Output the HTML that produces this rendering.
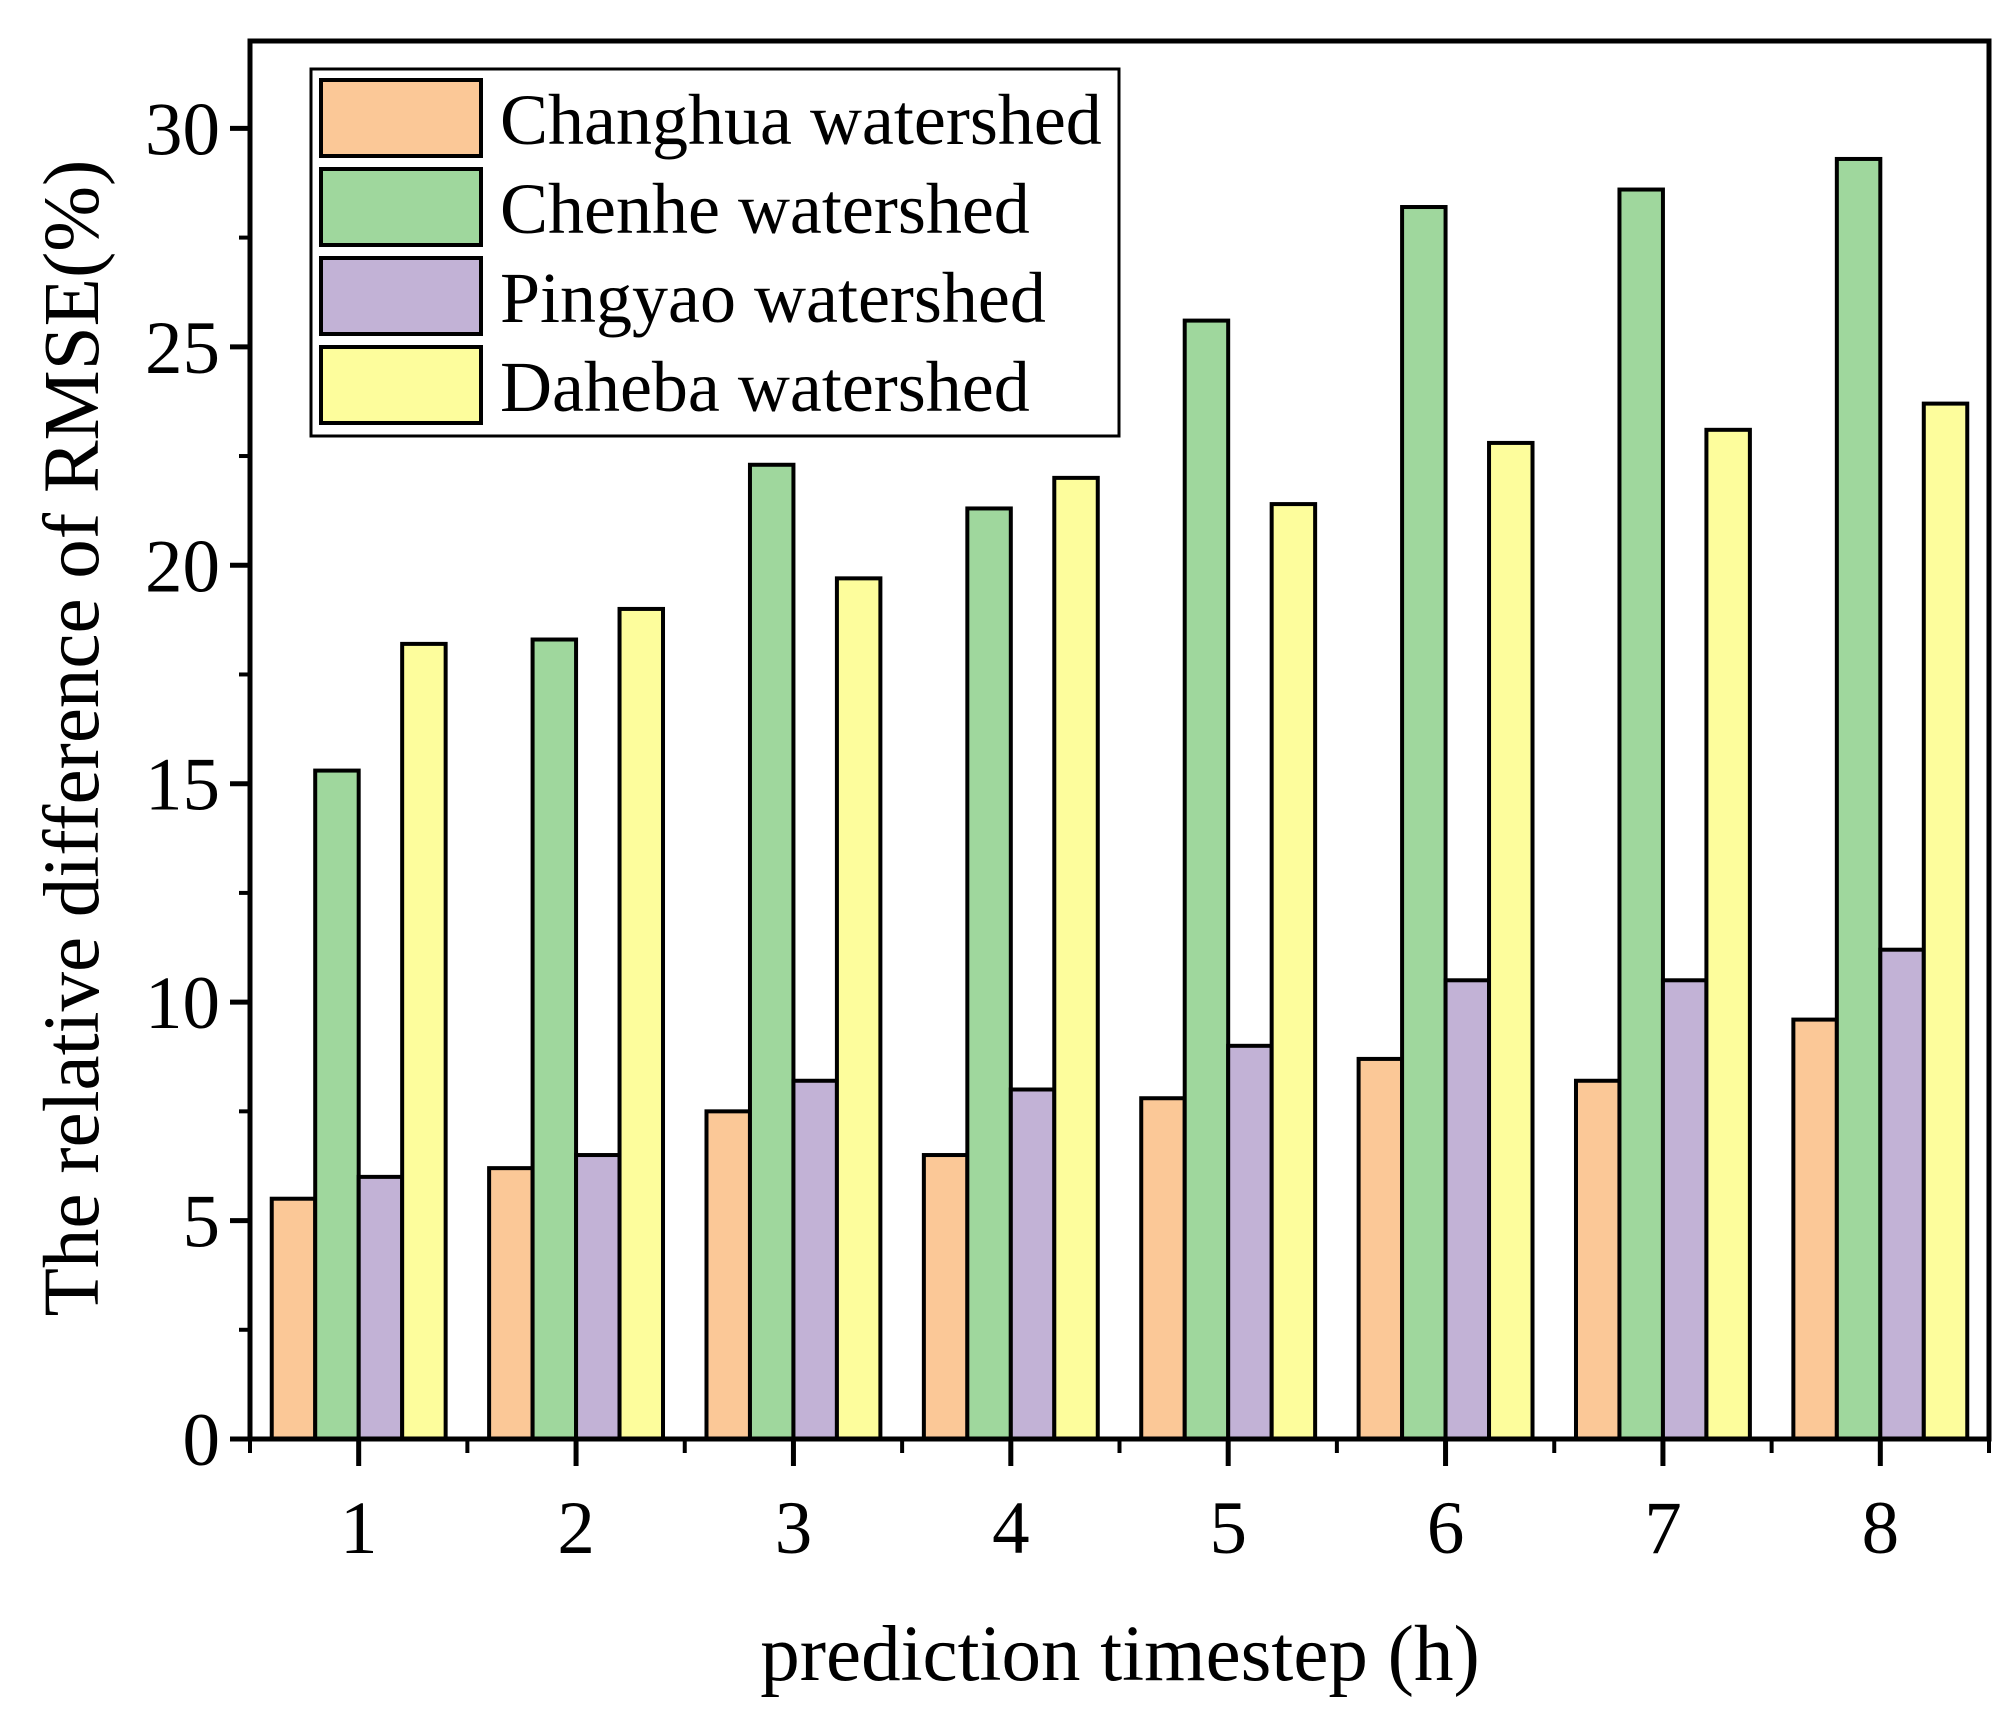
<!DOCTYPE html>
<html><head><meta charset="utf-8"><style>
body{margin:0;background:#fff}
svg{display:block;font-family:"Liberation Serif",serif}
</style></head><body>
<svg id="chart" width="2010" height="1710" viewBox="0 0 2010 1710" xmlns="http://www.w3.org/2000/svg">
<g id="bars"></g>
<g id="axes"></g>
<g id="legend"></g>
<text transform="translate(98,738) rotate(-90)" text-anchor="middle" font-size="79">The relative difference of RMSE(%)</text>
<text x="1120" y="1680" text-anchor="middle" font-size="79">prediction timestep (h)</text>
</svg>
<script>
const categories = ["1","2","3","4","5","6","7","8"];
const seriesNames = ["Changhua watershed","Chenhe watershed","Pingyao watershed","Daheba watershed"];
const changhua = [5.5,6.2,7.5,6.5,7.8,8.7,8.2,9.6];
const chenhe = [15.3,18.3,22.3,21.3,25.6,28.2,28.6,29.3];
const pingyao = [6.0,6.5,8.2,8.0,9.0,10.5,10.5,11.2];
const daheba = [18.2,19.0,19.7,22.0,21.4,22.8,23.1,23.7];
const yTicks = [0,5,10,15,20,25,30];
const colors = ["#fbc897","#9fd79d","#c2b2d6","#fdfd9c"];
const series = [changhua, chenhe, pingyao, daheba];

const NS="http://www.w3.org/2000/svg";
const L=250,R=1989,T=41,B=1439,YMAX=32;
const y=v=>B-(v/YMAX)*(B-T);
const step=(R-L)/categories.length;
const xc=i=>L+(i+0.5)*step;
const bw=step*0.8/4;
function mk(tag,attrs,parent){const e=document.createElementNS(NS,tag);for(const k in attrs)e.setAttribute(k,attrs[k]);parent.appendChild(e);return e;}
const gb=document.getElementById('bars');
series.forEach((s,si)=>{
  s.forEach((v,i)=>{
    const x0=xc(i)-2*bw+si*bw;
    const r=mk('rect',{x:x0,y:y(v),width:bw,height:B-y(v),fill:colors[si],stroke:'#000','stroke-width':4},gb);
    
    
  });
});
const ga=document.getElementById('axes');
mk('rect',{x:L,y:T,width:R-L,height:B-T,fill:'none',stroke:'#000','stroke-width':5},ga);
yTicks.forEach(t=>{
  mk('line',{x1:L-20,x2:L,y1:y(t),y2:y(t),stroke:'#000','stroke-width':5},ga);
  const tx=mk('text',{x:L-30,y:y(t)+26,'text-anchor':'end','font-size':75},ga);
  tx.textContent=t;
  
  
  if(t<30) mk('line',{x1:L-11,x2:L,y1:y(t+2.5),y2:y(t+2.5),stroke:'#000','stroke-width':4},ga);
});
categories.forEach((c,i)=>{
  mk('line',{x1:xc(i),x2:xc(i),y1:B,y2:B+27,stroke:'#000','stroke-width':5},ga);
  mk('line',{x1:L+i*step,x2:L+i*step,y1:B,y2:B+14,stroke:'#000','stroke-width':4},ga);
  const tx=mk('text',{x:xc(i),y:B+114,'text-anchor':'middle','font-size':75},ga);
  tx.textContent=c;
  
  
});
mk('line',{x1:R,x2:R,y1:B,y2:B+14,stroke:'#000','stroke-width':4},ga);
const gl=document.getElementById('legend');
mk('rect',{x:311,y:69,width:808,height:367,fill:'#fff',stroke:'#000','stroke-width':3},gl);
seriesNames.forEach((n,i)=>{
  const yy=80+i*89;
  const sw=mk('rect',{x:321,y:yy,width:160,height:76,fill:colors[i],stroke:'#000','stroke-width':4},gl);
  
  
  const tx=mk('text',{x:500,y:yy+64,'font-size':72},gl);
  tx.textContent=n;
  
  
});
</script>
</body></html>
